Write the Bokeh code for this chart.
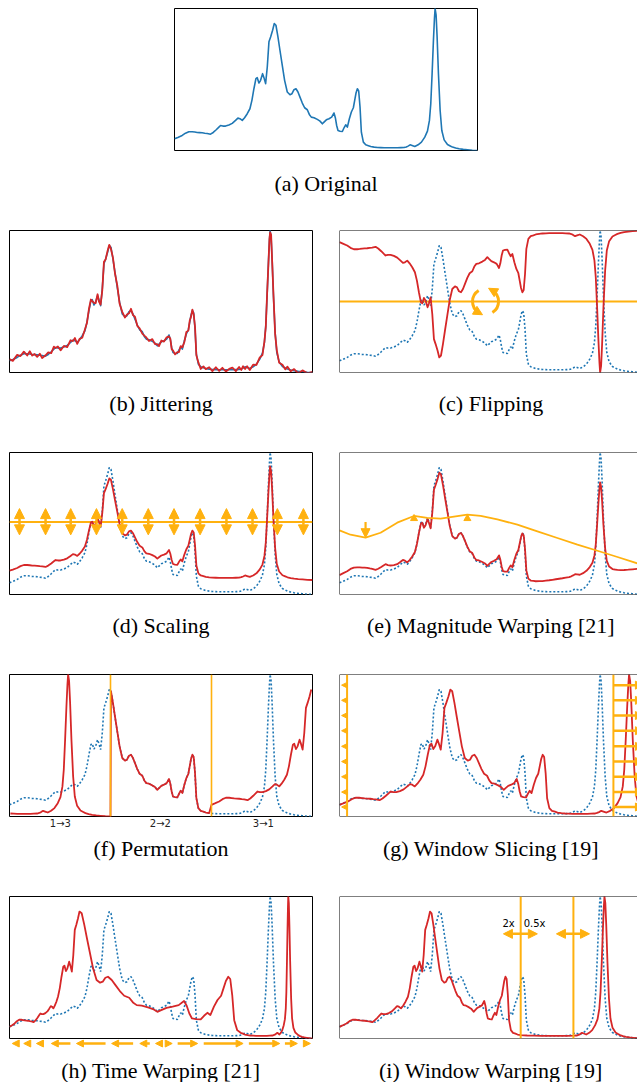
import numpy as np
from bokeh.plotting import figure
from bokeh.models import Range1d, Span, Arrow, NormalHead, ColumnDataSource
from bokeh.layouts import column, row
from bokeh.embed import file_html
from bokeh.resources import INLINE
from bokeh.core.properties import value

# ---------------- data ----------------
orig_t = [0.0, 1.1, 2.53, 3.63, 4.74, 5.84, 6.7, 7.49, 8.3, 9.14,
          10.0, 10.79, 11.89, 12.78, 13.77, 14.65, 15.2, 15.97, 16.85, 17.95,
          19.05, 20.15, 20.93, 21.59, 22.36, 23.13, 24.01, 24.89, 25.55, 26.21,
          26.87, 27.31, 27.86, 28.41, 29.07, 29.52, 30.07, 30.62, 31.17, 31.72,
          32.38, 32.93, 33.48, 34.14, 34.8, 35.57, 36.34, 37.22, 38.11, 38.77,
          39.43, 40.09, 40.75, 41.41, 42.18, 42.95, 43.83, 44.49, 45.15, 46.04,
          47.14, 48.02, 48.79, 49.34, 50.11, 50.99, 51.87, 52.64, 53.08, 53.52,
          53.96, 54.63, 55.4, 55.95, 56.5, 57.05, 57.71, 58.37, 59.03, 59.47,
          59.91, 60.35, 60.79, 61.23, 61.67, 62.33, 63.11, 64.0, 64.76, 65.9,
          66.96, 68.1, 69.2, 70.26, 71.4, 72.5, 73.57, 74.7, 75.77, 76.5,
          77.09, 77.75, 78.41, 79.3, 80.4, 81.5, 82.6, 83.48, 84.14, 84.58,
          85.02, 85.46, 85.79, 86.01, 86.34, 86.67, 87.11, 87.67, 88.22, 88.99,
          90.09, 91.0, 91.74, 92.8, 93.94, 95.3, 96.7, 98.3, 100.0]
orig_v = [0.082, 0.092, 0.106, 0.122, 0.132, 0.132, 0.130, 0.127, 0.126, 0.125,
          0.122, 0.120, 0.115, 0.127, 0.146, 0.165, 0.176, 0.172, 0.172, 0.179,
          0.191, 0.212, 0.228, 0.224, 0.212, 0.231, 0.259, 0.294, 0.353, 0.435,
          0.506, 0.513, 0.475, 0.494, 0.541, 0.513, 0.471, 0.588, 0.765, 0.800,
          0.847, 0.894, 0.882, 0.800, 0.706, 0.600, 0.494, 0.412, 0.393, 0.400,
          0.428, 0.435, 0.412, 0.376, 0.334, 0.301, 0.287, 0.254, 0.235, 0.231,
          0.219, 0.207, 0.188, 0.200, 0.216, 0.224, 0.235, 0.264, 0.231, 0.176,
          0.141, 0.136, 0.134, 0.160, 0.181, 0.165, 0.224, 0.271, 0.301, 0.353,
          0.405, 0.435, 0.419, 0.306, 0.129, 0.059, 0.040, 0.034, 0.028, 0.024,
          0.021, 0.020, 0.019, 0.019, 0.019, 0.019, 0.019, 0.020, 0.021, 0.025,
          0.031, 0.040, 0.035, 0.028, 0.040, 0.059, 0.094, 0.136, 0.212, 0.329,
          0.541, 0.776, 0.929, 1.000, 0.953, 0.800, 0.541, 0.282, 0.141, 0.075,
          0.042, 0.032, 0.024, 0.017, 0.012, 0.008, 0.005, 0.002, 0.000]
# (b) jitter added to each sample
jitter = [0.012, -0.010, 0.018, -0.006, 0.015, -0.012, 0.020, -0.008, 0.004, -0.015,
          0.010, -0.018, 0.006, 0.014, -0.009, 0.017, -0.004, 0.011, -0.016, 0.008,
          -0.012, 0.015, -0.007, 0.019, -0.010, 0.006, -0.014, 0.009, -0.005, 0.012,
          0.008, -0.011, 0.016, -0.006, 0.010, -0.013, 0.007, -0.009, 0.014, -0.004,
          0.011, 0.005, -0.012, 0.009, -0.007, 0.013, -0.010, 0.015, -0.006, 0.008,
          -0.011, 0.014, -0.008, 0.017, -0.005, 0.010, -0.013, 0.006, 0.012, -0.009,
          0.016, -0.007, 0.011, -0.014, 0.009, -0.006, 0.013, -0.010, 0.007, -0.012,
          0.015, -0.008, 0.010, -0.016, 0.005, 0.012, -0.009, 0.014, -0.006, 0.011,
          -0.013, 0.008, -0.010, 0.016, -0.007, 0.012, -0.015, 0.009, -0.004, 0.013,
          -0.011, 0.017, -0.008, 0.014, -0.012, 0.006, 0.015, -0.010, 0.018, -0.007,
          0.013, -0.016, 0.009, -0.011, 0.015, -0.006, 0.012, -0.014, 0.008, -0.010,
          0.014, -0.009, 0.011, -0.013, 0.016, -0.008, 0.010, -0.012, 0.015, -0.006,
          0.013, -0.010, 0.017, -0.009, 0.012, -0.014, 0.010, -0.008, 0.004]

# (c) flipping
flip_line = 0.5
rot_center = (48.2, 0.5)
# (d) scaling
scale_center = 0.51
scale_factor = 0.8
scale_arrow_x = [3.3, 11.9, 20.2, 28.7, 37.2, 45.8, 54.3, 62.9, 71.6, 80.2, 88.4, 97.0]
scale_arrow_lo, scale_arrow_hi = 0.42, 0.605
# (e) magnitude warping curve
mw_t = [0.0, 3.63, 8.59, 13.55, 19.05, 24.56, 28.96, 33.37, 37.78, 42.18,
        46.59, 52.09, 58.7, 65.31, 71.92, 78.52, 85.13, 91.74, 98.35, 100.0]
mw_v = [0.452, 0.421, 0.400, 0.435, 0.506, 0.553, 0.539, 0.534, 0.548, 0.562,
        0.553, 0.529, 0.492, 0.445, 0.398, 0.351, 0.308, 0.264, 0.219, 0.208]
mw_center, mw_gain, mw_bias = 0.4, 1.19, 0.29
mw_down_arrow = (8.6, 0.51, 0.40)
mw_up_marks_t = [24.6, 42.2]
mw_up_marks_v = [0.535, 0.535]
# (f) permutation
perm_bounds = [0.0, 100.0 / 3, 200.0 / 3, 100.0]
perm_order = [2, 1, 0]
perm_label_t = [16.8, 49.8, 83.8]
perm_labels = ["1\u21923", "2\u21922", "3\u21921"]
# (g) window slicing
slice_window = (0.0, 90.0)
slice_lines = [2.5, 90.4]
slice_arrow_y = [0.925, 0.818, 0.711, 0.604, 0.494, 0.387, 0.280, 0.172, 0.067]
# (h) time warping: original time -> warped time
tw_orig = [0, 15.2, 24.89, 32.93, 40.09, 48.79, 52.64, 56.5, 60.35, 63.11, 77.75, 86.01, 100]
tw_new = [0, 10.2, 16.0, 23.1, 32.5, 48.8, 57.6, 65.3, 72.2, 76.3, 88.4, 92.0, 100]
tw_arrow_tail = [2.3, 6.7, 11.3, 20.1, 31.7, 40.8, 46.3, 50.1, 51.8, 55.5, 64.1, 79.0, 90.9, 96.9]
tw_arrow_head = [0.9, 4.7, 8.9, 13.8, 22.1, 33.7, 43.0, 48.2, 53.7, 62.1, 77.1, 89.2, 95.0, 99.3]
# (i) window warping
ww_orig = [0, 65.9, 74.6, 100]
ww_new = [0, 59.8, 77.2, 100]
ww_arrow_start = [54.1, 71.6]
ww_arrow_end = [65.3, 82.5]
ww_arrow_y = 0.737
ww_label_t = [55.8, 64.4]
ww_label_v = [0.808, 0.808]
ww_labels = ["2x", "0.5x"]

captions = ["(a) Original", "(b) Jittering", "(c) Flipping", "(d) Scaling",
            "(e) Magnitude Warping [21]", "(f) Permutation", "(g) Window Slicing [19]",
            "(h) Time Warping [21]", "(i) Window Warping [19]"]

# ---------------- style ----------------
BLUE, RED, ORANGE = "#1f77b4", "#d62728", "#ffb10f"
SERIF, SANS = "Liberation Serif", "DejaVu Sans"
CUT = 98.35   # right-hand panels are cut by the page edge

T = np.array(orig_t)
V = np.array(orig_v)

# column geometry (px): left border, frame width, right border
LEFT = (9, 303, 26)
RIGHT = (1, 298, 0)
TOP = (174, 303, 160)


def panel(geom, mbt, fh, mbb, x_end=100.0, outline=True):
    mbl, fw, mbr = geom
    p = figure(width=mbl + fw + mbr, height=mbt + fh + mbb,
               x_range=Range1d(0, x_end), y_range=Range1d(0, 1),
               output_backend="svg", toolbar_location=None, x_axis_type=None, y_axis_type=None,
               title=None, min_border_left=mbl, min_border_right=mbr,
               min_border_top=mbt, min_border_bottom=mbb)
    p.outline_line_color = "black" if outline else None
    p.outline_line_width = 1
    p.outline_line_alpha = 1.0
    return p


def cap_fig(geom, h, x_end=100.0):
    """strip under a panel; y measured in px from its top"""
    mbl, fw, mbr = geom
    p = figure(width=mbl + fw + mbr, height=h, x_range=Range1d(0, x_end), y_range=Range1d(h, 0),
               output_backend="svg", toolbar_location=None, x_axis_type=None, y_axis_type=None,
               title=None, min_border_left=mbl, min_border_right=mbr,
               min_border_top=0, min_border_bottom=0)
    p.outline_line_color = None
    return p


def caption(p, text, y, x=50.0):
    p.text(x=[x], y=[y], text=[text], text_font=value(SERIF), text_font_size="22px",
           text_align="center", text_baseline="middle", text_color="black")


def open_box(p):
    p.outline_line_color = None
    for loc in (0.0, 1.0):
        p.add_layout(Span(location=loc, dimension="width", line_color="black", line_width=1))
    p.add_layout(Span(location=0.0, dimension="height", line_color="black", line_width=1))


def solid(p, t, v):
    p.line(t, v, line_color=BLUE, line_width=1.6, line_join="round")


def dotted(p, t, v):
    p.line(t, v, line_color=BLUE, line_width=1.6, line_dash="2 2")


def redline(p, t, v):
    p.line(t, v, line_color=RED, line_width=1.8, line_join="round")


def arrows(p, xs, ys, xe, ye, size, width, both=False, alpha=1.0):
    src = ColumnDataSource(dict(xs=list(xs), ys=list(ys), xe=list(xe), ye=list(ye)))

    def head():
        return NormalHead(size=size, fill_color=ORANGE, line_color=ORANGE, line_width=1)
    p.add_layout(Arrow(source=src, x_start="xs", y_start="ys", x_end="xe", y_end="ye",
                       end=head(), start=head() if both else None,
                       line_color=ORANGE, line_width=width, line_alpha=alpha))


# ---------------- (a) ----------------
pa = panel(TOP, 8, 142, 1)
solid(pa, T, V)
ca = cap_fig(TOP, 78)
caption(ca, captions[0], 32)

# ---------------- (b) jittering ----------------
pb = panel(LEFT, 1, 142, 1)
solid(pb, T, V)
redline(pb, T, V + np.array(jitter))
cb = cap_fig(LEFT, 78)
caption(cb, captions[1], 30)

# ---------------- (c) flipping ----------------
pc = panel(RIGHT, 1, 142, 1, x_end=CUT)
open_box(pc)
dotted(pc, T, V)
pc.add_layout(Span(location=flip_line, dimension="width", line_color=ORANGE, line_width=2,
                   level="underlay"))
redline(pc, T, V.max() + V.min() - V)
r_px = 13
pc.arc(x=[rot_center[0]] * 2, y=[rot_center[1]] * 2, radius=r_px, radius_units="screen",
       start_angle=[np.radians(122), np.radians(-58)], end_angle=[np.radians(238), np.radians(58)],
       direction="anticlock", line_color=ORANGE, line_width=3)
px_t, px_v = 303 / 100.0, 142.0
hx0, hy0, hx1, hy1 = [], [], [], []
for a_end, d in [(240, 330), (60, 150)]:
    ex, ey = r_px * np.cos(np.radians(a_end)), r_px * np.sin(np.radians(a_end))
    dx, dy = np.cos(np.radians(d)), np.sin(np.radians(d))
    hx0.append(rot_center[0] + (ex - 2 * dx) / px_t)
    hy0.append(rot_center[1] + (ey - 2 * dy) / px_v)
    hx1.append(rot_center[0] + (ex + 4 * dx) / px_t)
    hy1.append(rot_center[1] + (ey + 4 * dy) / px_v)
arrows(pc, hx0, hy0, hx1, hy1, 9, 0.1, alpha=0.0)
cc = cap_fig(RIGHT, 78, x_end=CUT)
caption(cc, captions[2], 30)

# ---------------- (d) scaling ----------------
pd_ = panel(LEFT, 1, 142, 1)
pd_.add_layout(Span(location=scale_center, dimension="width", line_color=ORANGE, line_width=2,
                    level="underlay"))
dotted(pd_, T, V)
redline(pd_, T, scale_center + (V - scale_center) * scale_factor)
n = len(scale_arrow_x)
arrows(pd_, scale_arrow_x, [scale_arrow_lo] * n, scale_arrow_x, [scale_arrow_hi] * n, 10, 2.5, both=True)
cd = cap_fig(LEFT, 78)
caption(cd, captions[3], 30)

# ---------------- (e) magnitude warping ----------------
pe = panel(RIGHT, 1, 142, 1, x_end=CUT)
open_box(pe)
dotted(pe, T, V)
warp = mw_gain * np.interp(T, mw_t, mw_v) + mw_bias
redline(pe, T, mw_center + (V - mw_center) * warp)
pe.line(mw_t, mw_v, line_color=ORANGE, line_width=1.8)
arrows(pe, [mw_down_arrow[0]], [mw_down_arrow[1]], [mw_down_arrow[0]], [mw_down_arrow[2]], 9, 2.2)
pe.scatter(mw_up_marks_t, mw_up_marks_v, marker="triangle", size=7, color=ORANGE)
ce = cap_fig(RIGHT, 78, x_end=CUT)
caption(ce, captions[4], 30)

# ---------------- (f) permutation ----------------
pf = panel(LEFT, 1, 142, 1)
dotted(pf, T, V)
perm_t, perm_v = [], []
for slot, seg in enumerate(perm_order):
    lo, hi = perm_bounds[seg], perm_bounds[seg + 1]
    m = (T >= lo) & (T <= hi)
    perm_t += list(T[m] + perm_bounds[slot] - lo)
    perm_v += list(V[m])
for b in perm_bounds[1:-1]:
    pf.add_layout(Span(location=b, dimension="height", line_color=ORANGE, line_width=1.6))
redline(pf, perm_t, perm_v)
cf = cap_fig(LEFT, 78)
cf.text(x=perm_label_t, y=[5.5] * 3, text=perm_labels, text_font=value(SANS),
        text_font_size="10px", text_align="center", text_baseline="middle", text_color="#222222")
caption(cf, captions[5], 31)

# ---------------- (g) window slicing ----------------
pg = panel(RIGHT, 1, 142, 1, x_end=CUT)
open_box(pg)
dotted(pg, T, V)
redline(pg, (T - slice_window[0]) / (slice_window[1] - slice_window[0]) * 100.0, V)
for s in slice_lines:
    pg.add_layout(Span(location=s, dimension="height", line_color=ORANGE, line_width=2))
k = len(slice_arrow_y)
arrows(pg, [slice_lines[0]] * k, slice_arrow_y, [0.7] * k, slice_arrow_y, 5, 1.5)
arrows(pg, [slice_lines[1]] * k, slice_arrow_y, [100.3] * k, slice_arrow_y, 8, 2.5)
cg = cap_fig(RIGHT, 78, x_end=CUT)
caption(cg, captions[6], 31)

# ---------------- (h) time warping ----------------
ph = panel(LEFT, 1, 142, 1)
dotted(ph, T, V)
redline(ph, np.interp(T, tw_orig, tw_new), V)
chh = cap_fig(LEFT, 43)
kk = len(tw_arrow_tail)
arrows(chh, tw_arrow_tail, [4.0] * kk, tw_arrow_head, [4.0] * kk, 7, 2.5)
caption(chh, captions[7], 31)

# ---------------- (i) window warping ----------------
pi = panel(RIGHT, 1, 142, 1, x_end=CUT)
open_box(pi)
dotted(pi, T, V)
redline(pi, np.interp(T, ww_orig, ww_new), V)
for w in ww_new[1:3]:
    pi.add_layout(Span(location=w, dimension="height", line_color=ORANGE, line_width=2))
arrows(pi, ww_arrow_start, [ww_arrow_y] * 2, ww_arrow_end, [ww_arrow_y] * 2, 9, 2.5, both=True)
pi.text(x=ww_label_t, y=ww_label_v, text=ww_labels, text_font=value(SANS), text_font_size="10px",
        text_align="center", text_baseline="middle", text_color="black")
ci = cap_fig(RIGHT, 43, x_end=CUT)
caption(ci, captions[8], 31)

layout = column(
    pa, ca,
    row(pb, pc), row(cb, cc),
    row(pd_, pe), row(cd, ce),
    row(pf, pg), row(cf, cg),
    row(ph, pi), row(chh, ci),
)

open("out.html", "w").write(file_html(layout, INLINE))
